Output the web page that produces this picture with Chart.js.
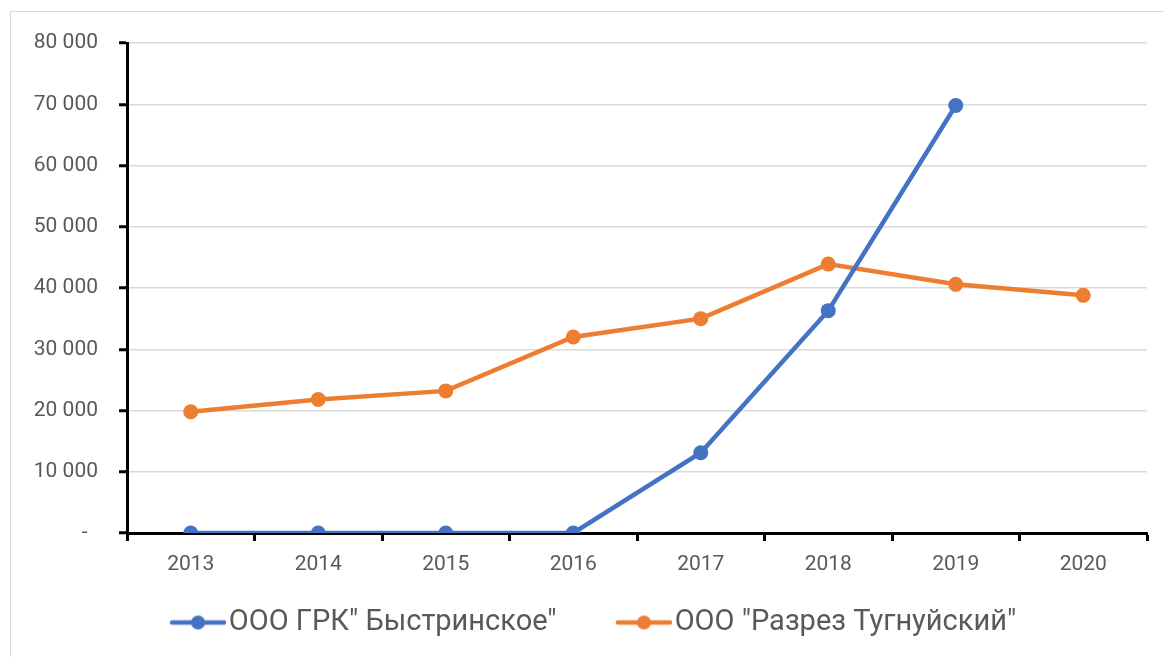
<!DOCTYPE html>
<html>
<head>
<meta charset="utf-8">
<script src="https://cdn.jsdelivr.net/npm/chart.js@4.4.1/dist/chart.umd.min.js"></script>
<style>
  html, body { margin: 0; padding: 0; background: #fff; overflow: hidden; }
  #frame { position: absolute; left: 10px; top: 11px; width: 1300px; height: 800px; border: 1px solid #d9d9d9; }
  #chart { position: absolute; left: 0; top: 0; }
</style>
</head>
<body>
<div id="frame"></div>
<canvas id="chart" width="1164" height="657"></canvas>
<script>
const years = ["2013", "2014", "2015", "2016", "2017", "2018", "2019", "2020"];
const bystrinskoe = [0, 0, 0, 0, 13100, 36300, 69800, null];
const tugnuisky = [19800, 21800, 23200, 32000, 35000, 43900, 40600, 38800];
const seriesNames = ['ООО ГРК" Быстринское"', 'ООО "Разрез Тугнуйский"'];
const yTicks = [0, 10000, 20000, 30000, 40000, 50000, 60000, 70000, 80000];

const blue = "#4472c4";
const orange = "#ed7d31";
const legendFont = 29;
const legendPad = 20;
const markerLen = 56;
const markerGap = 3;   // marker to text
const itemGap = 59;    // text end to next marker
const boxW = itemGap - legendPad + markerLen + markerGap - legendFont / 2;

// line + dot marker for the legend; the canvas is left blank on its left side
// so that the items get the same spacing as in the original
function legendMarker(color) {
  const c = document.createElement("canvas");
  c.width = Math.round(2 * (boxW / 2 + legendFont / 2 - markerGap));
  c.height = 18;
  const g = c.getContext("2d");
  const x1 = c.width;
  const x0 = x1 - markerLen;
  g.strokeStyle = color;
  g.lineWidth = 4.5;
  g.lineCap = "round";
  g.beginPath();
  g.moveTo(x0 + 2, 9);
  g.lineTo(x1 - 2, 9);
  g.stroke();
  g.fillStyle = color;
  g.beginPath();
  g.arc((x0 + x1) / 2, 9, 7, 0, Math.PI * 2);
  g.fill();
  return c;
}

function fmt(v) {
  if (v === 0) return "-\u00a0\u00a0";
  return String(v).replace(/\B(?=(\d{3})+(?!\d))/g, " ");
}

const ctx = document.getElementById("chart").getContext("2d");
new Chart(ctx, {
  type: "line",
  data: {
    labels: years,
    datasets: [
      {
        label: seriesNames[0],
        data: bystrinskoe,
        borderColor: blue,
        backgroundColor: blue,
        borderWidth: 4.5,
        pointRadius: 7.5,
        pointHoverRadius: 7.5,
        pointBorderWidth: 0,
        tension: 0
      },
      {
        label: seriesNames[1],
        data: tugnuisky,
        borderColor: orange,
        backgroundColor: orange,
        borderWidth: 4.5,
        pointRadius: 7.5,
        pointHoverRadius: 7.5,
        pointBorderWidth: 0,
        tension: 0
      }
    ]
  },
  options: {
    responsive: false,
    animation: false,
    layout: { padding: { left: 0, right: 17, top: 43, bottom: 10 } },
    plugins: {
      tooltip: { enabled: false },
      legend: {
        position: "bottom",
        labels: {
          color: "#595959",
          font: { family: "Roboto", size: legendFont },
          usePointStyle: true,
          pointStyleWidth: boxW,
          padding: legendPad,
          generateLabels: chart => chart.data.datasets.map((ds, i) => ({
            text: ds.label,
            fillStyle: ds.borderColor,
            strokeStyle: ds.borderColor,
            lineWidth: 0,
            pointStyle: legendMarker(ds.borderColor),
            fontColor: "#595959",
            hidden: false,
            datasetIndex: i
          }))
        }
      }
    },
    scales: {
      x: {
        offset: true,
        afterFit: s => { s.height = 55; },
        border: { color: "#000", width: 3 },
        grid: {
          offset: true,
          drawOnChartArea: false,
          drawTicks: true,
          tickLength: 8,
          tickColor: "#000",
          tickWidth: 3
        },
        ticks: {
          color: "#595959",
          font: { family: "Roboto", size: 21 },
          padding: 11,
          maxRotation: 0
        }
      },
      y: {
        min: 0,
        max: 80000,
        afterFit: s => { s.width = 127; },
        afterBuildTicks: s => { s.ticks = yTicks.map(v => ({ value: v })); },
        border: { color: "#000", width: 3 },
        grid: {
          color: "#d9d9d9",
          lineWidth: 1.5,
          drawTicks: true,
          tickLength: 8,
          tickColor: "#000",
          tickWidth: 3
        },
        ticks: {
          color: "#595959",
          font: { family: "Roboto", size: 21 },
          padding: 21,
          callback: v => fmt(v)
        }
      }
    }
  }
});
</script>
</body>
</html>
